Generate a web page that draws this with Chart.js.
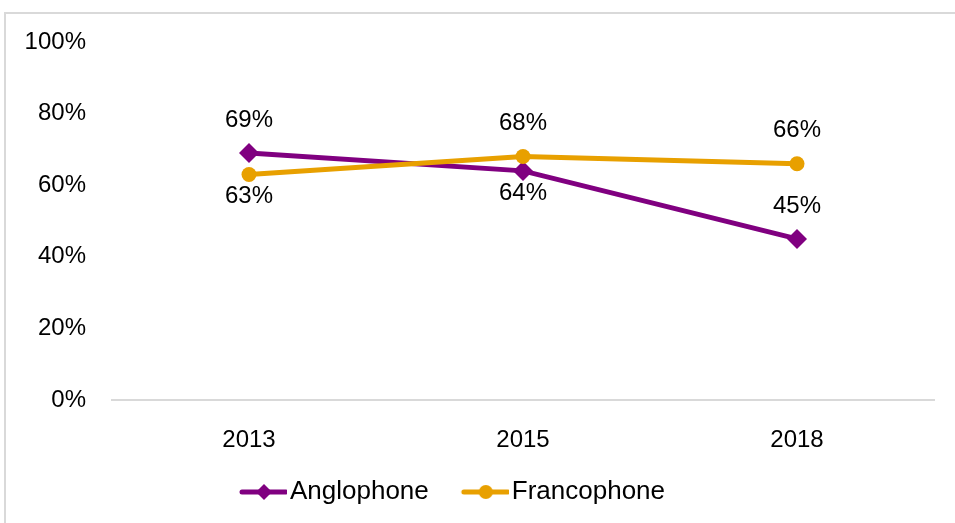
<!DOCTYPE html>
<html>
<head>
<meta charset="utf-8">
<script src="https://cdn.jsdelivr.net/npm/chart.js@4.4.1/dist/chart.umd.min.js"></script>
<style>
  html, body { margin: 0; padding: 0; background: #fff; overflow: hidden; }
  #wrap { position: relative; width: 955px; height: 523px; }
  #frame { position: absolute; left: 4px; top: 12px; width: 1000px; height: 600px; border: 2px solid #d9d9d9; box-sizing: border-box; }
  #chartBox { position: absolute; left: 0; top: 0; width: 955px; height: 523px; }
</style>
</head>
<body>
<div id="wrap">
  <div id="frame"></div>
  <div id="chartBox"><canvas id="myChart"></canvas></div>
</div>
<script>
var Years = ['2013', '2015', '2018'];
var Anglophone = [69, 64, 45];
var Francophone = [63, 68, 66];
var YTicks = [0, 20, 40, 60, 80, 100];

var purple = '#800080';
var orange = '#E8A000';
var fontFamily = "'Liberation Sans', Arial, sans-serif";

// legend icon: line with marker, blank on the left so items get spaced out
function legendIcon(color, style) {
    var c = document.createElement('canvas');
    c.width = 80; c.height = 20;
    var g = c.getContext('2d');
    g.strokeStyle = color;
    g.lineWidth = 5;
    g.lineCap = 'round';
    g.beginPath(); g.moveTo(35, 10); g.lineTo(79, 10); g.stroke();
    g.fillStyle = color;
    g.beginPath();
    if (style == 'diamond') {
        g.moveTo(57, 2); g.lineTo(65, 10); g.lineTo(57, 18); g.lineTo(49, 10);
    } else {
        g.arc(57, 10, 7, 0, Math.PI * 2);
    }
    g.closePath(); g.fill();
    return c;
}

// value labels above / below the points
var pointLabels = {
    id: 'pointLabels',
    afterDatasetsDraw: function (chart) {
        var ctx = chart.ctx;
        ctx.save();
        ctx.font = '24px ' + fontFamily;
        ctx.fillStyle = '#000';
        ctx.textAlign = 'center';
        ctx.textBaseline = 'middle';
        chart.data.datasets.forEach(function (ds, i) {
            var meta = chart.getDatasetMeta(i);
            meta.data.forEach(function (pt, j) {
                var dy = ds.labelPos[j] == 'above' ? -33 : 22;
                ctx.fillText(ds.data[j] + '%', pt.x, pt.y + dy);
            });
        });
        ctx.restore();
    }
};

// legend sits a bit left of centre in the original
var legendShift = {
    id: 'legendShift',
    afterLayout: function (chart) {
        chart.legend.left -= 26;
        chart.legend.right -= 26;
    }
};

var ctx = document.getElementById('myChart').getContext('2d');
var myChart = new Chart(ctx, {
    type: 'line',
    data: {
        labels: Years,
        datasets: [{
            label: 'Anglophone',
            data: Anglophone,
            borderColor: purple,
            backgroundColor: purple,
            borderWidth: 5,
            pointStyle: 'rectRot',
            pointRadius: 10,
            pointBorderWidth: 0,
            order: 1,
            labelPos: ['above', 'below', 'above']
        }, {
            label: 'Francophone',
            data: Francophone,
            borderColor: orange,
            backgroundColor: orange,
            borderWidth: 5,
            pointStyle: 'circle',
            pointRadius: 7.5,
            pointBorderWidth: 0,
            order: 0,
            labelPos: ['below', 'above', 'above']
        }]
    },
    options: {
        responsive: true,
        maintainAspectRatio: false,
        animation: false,
        layout: { padding: { top: 42, right: 21, bottom: 8, left: 0 } },
        plugins: {
            tooltip: { enabled: false },
            legend: {
                position: 'bottom',
                labels: {
                    usePointStyle: true,
                    pointStyleWidth: 60,
                    padding: 10,
                    color: '#000',
                    font: { size: 26, family: fontFamily },
                    generateLabels: function (chart) {
                        return chart.data.datasets.map(function (ds, i) {
                            return {
                                text: ds.label,
                                pointStyle: legendIcon(ds.borderColor, i == 0 ? 'diamond' : 'circle'),
                                fillStyle: ds.borderColor,
                                strokeStyle: ds.borderColor,
                                lineWidth: 0,
                                fontColor: '#000',
                                datasetIndex: i
                            };
                        });
                    }
                }
            }
        },
        scales: {
            x: {
                offset: true,
                grid: { display: false, drawTicks: false },
                border: { display: true, color: '#d9d9d9', width: 2 },
                afterFit: function (axis) { axis.height = 69; },
                ticks: { color: '#000', padding: 26, font: { size: 24, family: fontFamily } }
            },
            y: {
                min: 0,
                max: 100,
                afterBuildTicks: function (axis) {
                    axis.ticks = YTicks.map(function (v) { return { value: v }; });
                },
                afterFit: function (axis) { axis.width = 112; },
                grid: { display: false, drawTicks: false },
                border: { display: false },
                ticks: {
                    color: '#000',
                    padding: 26,
                    font: { size: 24, family: fontFamily },
                    callback: function (v) { return v + '%'; }
                }
            }
        }
    },
    plugins: [pointLabels, legendShift]
});
</script>
</body>
</html>
